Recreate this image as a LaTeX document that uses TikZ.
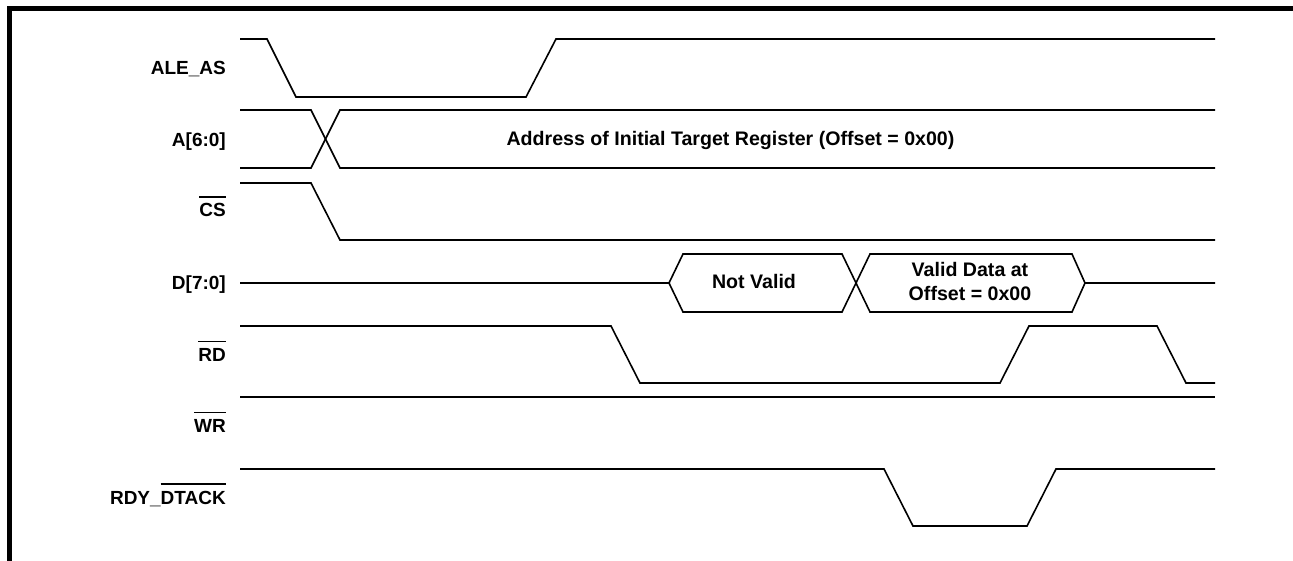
\documentclass[tikz,border=0pt]{standalone}
\usepackage{fontspec}
\setmainfont{Liberation Sans}
\newcommand{\ovl}[1]{\vbox{\hrule height 1.8pt \kern 5.5pt \hbox{#1}}}
\tikzset{
  sig/.style={line width=1.6pt, line join=miter},
  frame/.style={line width=5.5pt, line join=miter},
  lbl/.style={anchor=base east, inner sep=0pt, font=\bfseries\fontsize{19}{23}\selectfont},
  txt/.style={anchor=base, inner sep=0pt, font=\bfseries\fontsize{19.6}{23.5}\selectfont}
}
\begin{document}
\begin{tikzpicture}[x=1pt,y=-1pt]
\useasboundingbox (0,0) rectangle (1293,561);
% frame
\draw[frame] (9.5,561) -- (9.5,8.75) -- (1293,8.75);
% labels
\node[lbl] (lale) at (226,75) {ALE\_AS};
\node[lbl] (la) at (226,147) {A[6:0]};
\node[lbl] (lcs) at (226,217) {\ovl{CS}};
\node[lbl] (ld) at (226,290) {D[7:0]};
\node[lbl] (lrd) at (226,361) {\ovl{RD}};
\node[lbl] (lwr) at (226,432) {\ovl{WR}};
\node[lbl] (lrdy) at (226,504) {RDY\_\ovl{DTACK}};
% ALE_AS
\draw[sig] (240,39) -- (267,39) -- (296,97) -- (526,97) -- (556,39) -- (1215,39);
% A[6:0]
\draw[sig] (240,110) -- (311,110) -- (340,168) -- (1215,168);
\draw[sig] (240,168) -- (311,168) -- (340,110) -- (1215,110);
\node[txt] (addr) at (730.5,146) {Address of Initial Target Register (Offset = 0x00)};
% CS
\draw[sig] (240,183) -- (311,183) -- (340,240) -- (1215,240);
% D[7:0]
\draw[sig] (240,283) -- (669,283) -- (683,254) -- (842,254) -- (870,312) -- (1072,312) -- (1085,283) -- (1215,283);
\draw[sig] (669,283) -- (683,312) -- (842,312) -- (870,254) -- (1072,254) -- (1085,283);
\node[txt] (nv) at (754,289) {Not Valid};
\node[txt] (vd1) at (970,277) {Valid Data at};
\node[txt] (vd2) at (970,300.5) {Offset = 0x00};
% RD
\draw[sig] (240,326) -- (611,326) -- (640,383) -- (1000,383) -- (1029,326) -- (1157,326) -- (1186,383) -- (1215,383);
% WR
\draw[sig] (240,397) -- (1215,397);
% RDY_DTACK
\draw[sig] (240,469) -- (884,469) -- (913,526) -- (1027,526) -- (1056,469) -- (1215,469);
\end{tikzpicture}
\end{document}
